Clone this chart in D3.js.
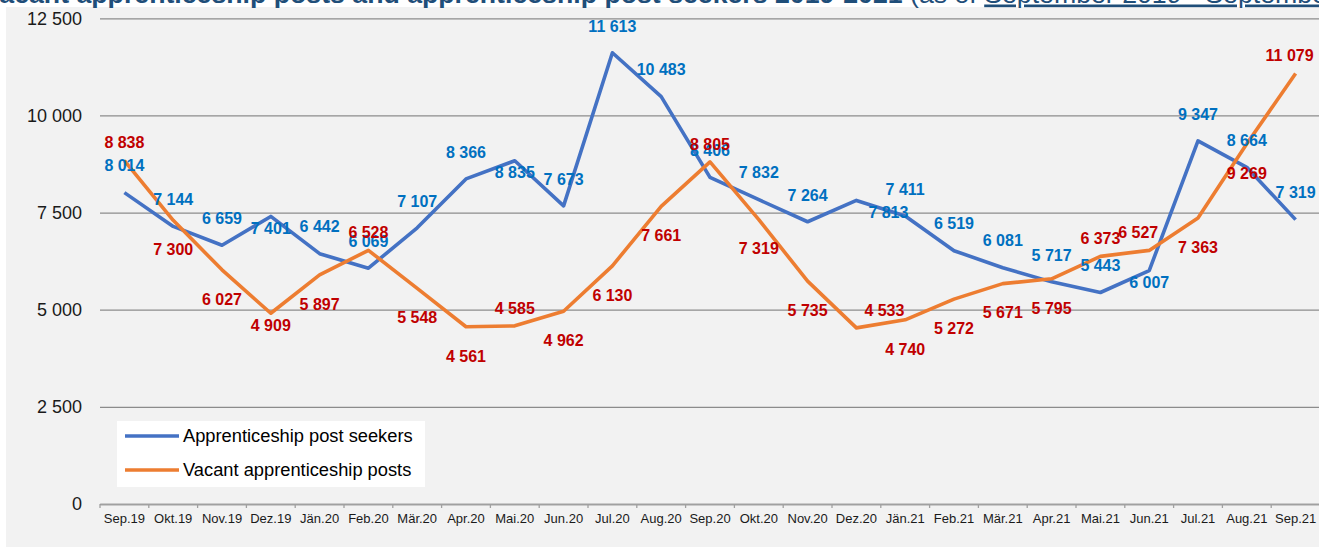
<!DOCTYPE html>
<html>
<head>
<meta charset="utf-8">
<script src="https://cdn.jsdelivr.net/npm/d3@7"></script>
<style>
    body { margin: 0; background: #fff; }
    svg { display: block; font-family: "Liberation Sans", Arial, sans-serif; }
</style>
</head>
<body>
<div id="chart"></div>
<script>
// data
var months = ['Sep.19', 'Okt.19', 'Nov.19', 'Dez.19', 'Jän.20', 'Feb.20', 'Mär.20', 'Apr.20',
    'Mai.20', 'Jun.20', 'Jul.20', 'Aug.20', 'Sep.20', 'Okt.20', 'Nov.20', 'Dez.20', 'Jän.21',
    'Feb.21', 'Mär.21', 'Apr.21', 'Mai.21', 'Jun.21', 'Jul.21', 'Aug.21', 'Sep.21'];
var seekers = [8014, 7144, 6659, 7401, 6442, 6069, 7107, 8366, 8835, 7673, 11613, 10483, 8406,
    7832, 7264, 7813, 7411, 6519, 6081, 5717, 5443, 6007, 9347, 8664, 7319];
var vacant = [8838, 7300, 6027, 4909, 5897, 6528, 5548, 4561, 4585, 4962, 6130, 7661, 8805,
    7319, 5735, 4533, 4740, 5272, 5671, 5795, 6373, 6527, 7363, 9269, 11079];
var yTicks = [0, 2500, 5000, 7500, 10000, 12500];
var seriesNames = ['Apprenticeship post seekers', 'Vacant apprenticeship posts'];

// where each data label sits relative to its point (A/a = above, B/b = below)
var seekerLabelPos = ['A','A','A','b','A','A','A','A','b','A','A','A','A','A','A','b','A','A','A','A','A','b','A','A','A'];
var vacantLabelPos = ['a','B','B','b','B','a','B','B','a','B','B','B','a','B','B','a','B','B','B','B','a','a','B','B','a'];
var labelDy = {A: -27, a: -18, B: 29, b: 12};
// a few labels were dragged sideways in the original
var seekerLabelDx = {15: 32};
var vacantLabelDx = {15: 28, 21: -11, 24: -6};

var W = 1319, H = 547;
var svg = d3.select('#chart').append('svg')
    .attr('width', W)
    .attr('height', H);

svg.append('rect')
    .attr('x', 6).attr('y', 7)
    .attr('width', W - 6).attr('height', H - 7)
    .attr('fill', '#f2f2f2');

// title, cut off at the top edge like the reference
var title = svg.append('text')
    .attr('x', -17).attr('y', 2.5)
    .attr('fill', '#1f4e79')
    .style('font-size', '26.7px');
title.append('tspan').attr('font-weight', 'bold')
    .text('Vacant apprenticeship posts and apprenticeship post seekers 2019-2021 ');
title.append('tspan').text('(as of ');
title.append('tspan').attr('text-decoration', 'underline')
    .text('September 2019 - September 2021)');

var x = d3.scaleBand().domain(months).range([100, 1320]).padding(0);
var y = d3.scaleLinear().domain([0, 12500]).range([504, 18.3]);
var fmt = d3.formatLocale({decimal: ',', thousands: ' ', grouping: [3], currency: ['', '']}).format(',');

// gridlines + y labels
var yAxis = svg.append('g')
    .attr('transform', 'translate(100,0)')
    .call(d3.axisLeft(y).tickValues(yTicks).tickFormat(fmt).tickSize(-1220).tickPadding(18));
yAxis.select('.domain').remove();
yAxis.selectAll('.tick line')
    .attr('stroke', '#8c8c8c')
    .attr('stroke-width', 1.3);
yAxis.selectAll('.tick text')
    .attr('fill', '#1a1a1a')
    .style('font-size', '18px');

// x axis: labels centred in bands, ticks on the band edges
var xAxis = svg.append('g')
    .attr('transform', 'translate(0,504)')
    .call(d3.axisBottom(x).tickSize(0).tickPadding(10));
xAxis.select('.domain').attr('stroke', '#a0a0a0').attr('stroke-width', 1.3);
xAxis.selectAll('.tick text')
    .attr('fill', '#1a1a1a')
    .style('font-size', '13px');
xAxis.selectAll('.edge')
    .data(months.map(function(m) { return x(m); }).concat([x.range()[1]]))
    .enter().append('line')
    .attr('class', 'edge')
    .attr('x1', function(d) { return d; })
    .attr('x2', function(d) { return d; })
    .attr('y1', 0).attr('y2', 4)
    .attr('stroke', '#a0a0a0')
    .attr('stroke-width', 1.3);

function cx(i) {
    return x(months[i]) + x.bandwidth() / 2;
}

var line = d3.line()
    .x(function(d, i) { return cx(i); })
    .y(function(d) { return y(d); });

var series = [
    {values: seekers, stroke: '#4472c4', labelColor: '#0070c0', pos: seekerLabelPos, dx: seekerLabelDx},
    {values: vacant, stroke: '#ed7d31', labelColor: '#c00000', pos: vacantLabelPos, dx: vacantLabelDx}
];

series.forEach(function(s) {
    svg.append('path')
        .datum(s.values)
        .attr('d', line)
        .attr('fill', 'none')
        .attr('stroke', s.stroke)
        .attr('stroke-width', 3.6)
        .attr('stroke-linejoin', 'round');
});

// labels drawn after both lines, as in the original
series.forEach(function(s) {
    svg.append('g').selectAll('text')
        .data(s.values)
        .enter().append('text')
        .attr('x', function(d, i) { return cx(i) + (s.dx[i] || 0); })
        .attr('y', function(d, i) { return y(d) + labelDy[s.pos[i]]; })
        .attr('dy', '0.36em')
        .attr('text-anchor', 'middle')
        .attr('fill', s.labelColor)
        .attr('font-weight', 'bold')
        .style('font-size', '16px')
        .text(fmt);
});

// legend
var legend = svg.append('g');
legend.append('rect')
    .attr('x', 117).attr('y', 421)
    .attr('width', 308).attr('height', 66)
    .attr('fill', '#fff');
series.forEach(function(s, i) {
    var ly = 436 + i * 34;
    legend.append('line')
        .attr('x1', 125).attr('x2', 179)
        .attr('y1', ly).attr('y2', ly)
        .attr('stroke', s.stroke)
        .attr('stroke-width', 3.6);
    legend.append('text')
        .attr('x', 183).attr('y', ly)
        .attr('dy', '0.35em')
        .attr('fill', '#000')
        .style('font-size', '18.3px')
        .text(seriesNames[i]);
});
</script>
</body>
</html>
